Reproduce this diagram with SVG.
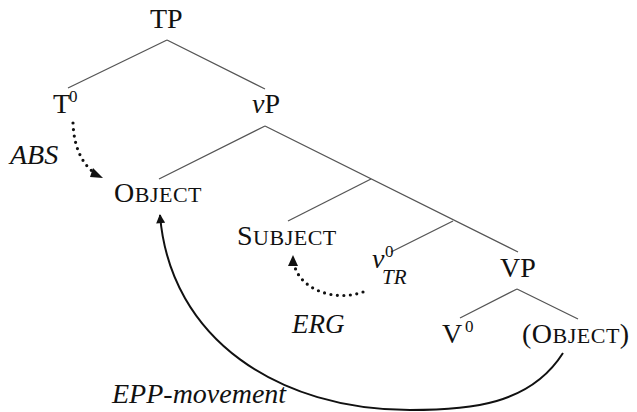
<svg xmlns="http://www.w3.org/2000/svg" width="637" height="412" viewBox="0 0 637 412">
<style>
text{font-family:"Liberation Serif","Times New Roman",serif;font-size:28px;fill:#111}
.it{font-style:italic}
.sc{font-size:22px}
.sup{font-size:17px}
.edge{stroke:#555;stroke-width:1.3;fill:none}
.move{stroke:#111;stroke-width:2;fill:none}
.dot{stroke:#111;stroke-width:3.2;fill:none;stroke-linecap:round;stroke-dasharray:0 6.5}
</style>
<defs>
<marker id="ah" viewBox="0 0 10 10" refX="9" refY="5" markerWidth="11" markerHeight="9" markerUnits="userSpaceOnUse" orient="auto">
<path d="M0,0 L10,5 L0,10 Z" fill="#111"/>
</marker>
</defs>
<g id="connectors">
<path class="edge" d="M167,40 L68,88 M167,40 L265,89"/>
<path class="edge" d="M265,126 L159,179 M265,126 L518,252"/>
<path class="edge" d="M371,179 L288,221"/>
<path class="edge" d="M453,221 L391,252"/>
<path class="edge" d="M517,289 L460,318 M517,289 L578,319"/>
<path class="move" d="M563,353 C530,405 470,410 410,410 C280,410 170,340 160,215" marker-end="url(#ah)"/>
<path class="dot" d="M73,123 C74,150 84,166 96,174"/>
<path d="M93,168 L103,178 L90,177 Z" fill="#111"/>
<path class="dot" d="M363,292 C335,302 300,290 294,264"/>
<path d="M288,266 L293,255 L298,266 Z" fill="#111"/>
</g>
<g id="TP"><text x="150" y="28">TP</text></g>
<g id="T0"><text x="53" y="113">T<tspan class="sup" x="69" y="102">0</tspan></text></g>
<g id="vP"><text x="252" y="113"><tspan class="it">v</tspan>P</text></g>
<g id="OBJECT"><text x="114" y="202" letter-spacing="0.5">O<tspan class="sc">BJECT</tspan></text></g>
<g id="SUBJECT"><text x="237" y="245" letter-spacing="0.5">S<tspan class="sc">UBJECT</tspan></text></g>
<g id="vTR"><text class="it" x="372" y="268">v</text><text class="sup" x="385" y="257">0</text><text class="it" x="382" y="284" style="font-size:21px">TR</text></g>
<g id="VP"><text x="500" y="277">VP</text></g>
<g id="V0"><text x="442" y="343">V<tspan class="sup" x="465" y="332">0</tspan></text></g>
<g id="OBJECT2"><text x="522" y="343" letter-spacing="0.5">(O<tspan class="sc">BJECT</tspan>)</text></g>
<g id="ABS"><text class="it" x="10" y="164">ABS</text></g>
<g id="ERG"><text class="it" x="292" y="333" style="font-size:27px">ERG</text></g>
<g id="EPP"><text class="it" x="112" y="403">EPP-movement</text></g>
</svg>
